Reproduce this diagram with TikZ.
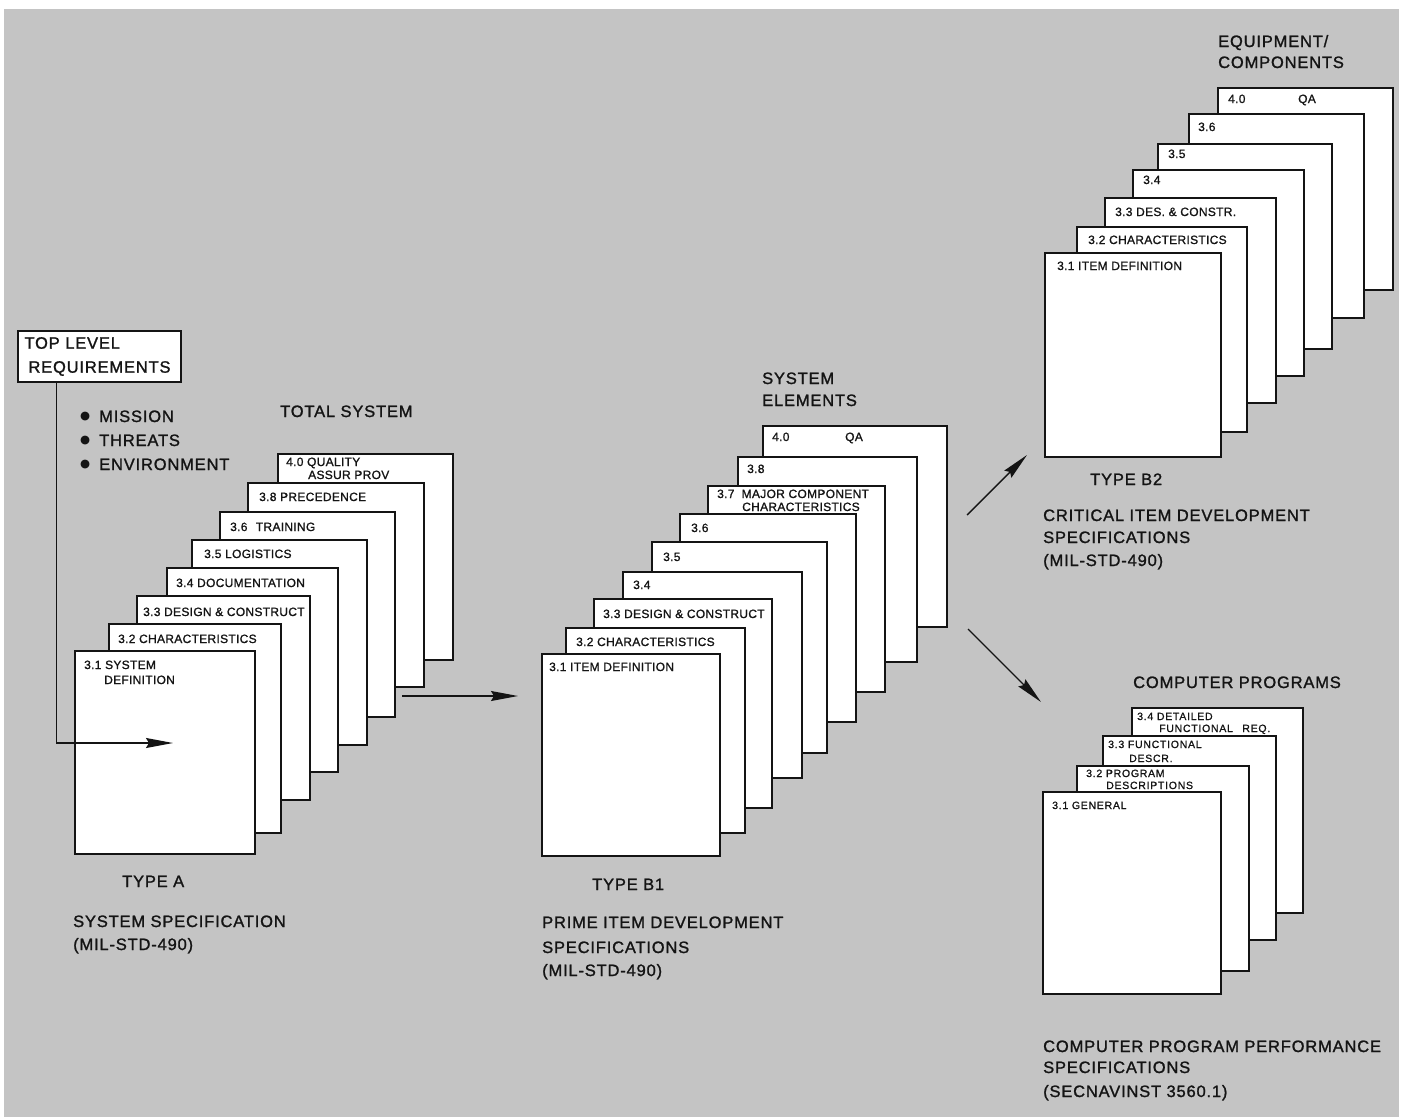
\documentclass[tikz,border=0pt]{standalone}
\usepackage{fontspec}
\setmainfont{Liberation Sans}
\newfontfamily\bigf[LetterSpace=5,FakeBold=1.3]{Liberation Sans}
\newfontfamily\smf[LetterSpace=2.5,FakeBold=1.1]{Liberation Sans}
\newfontfamily\cpf[LetterSpace=7,FakeBold=1.0]{Liberation Sans}
\newfontfamily\dotf{DejaVu Sans}
\usetikzlibrary{arrows.meta}
\definecolor{bg}{RGB}{196,196,196}
\definecolor{ink}{RGB}{20,20,20}
\newcommand\sht[5]{\node[sheet, minimum width={(#4-#2)*1pt}, minimum height={(#5-#3)*1pt}] (#1) at (#2,#3) {};}
\newcommand\bdot{\raisebox{2.5pt}{\dotf\fontsize{11.5}{11.5}\selectfont ●}}
\begin{document}
\begin{tikzpicture}[x=1pt,y=-1pt,
  sheet/.style={draw=ink, fill=white, line width=1.5pt, inner sep=0pt, outer sep=0pt, anchor=north west},
  big/.style={font=\bigf\fontsize{16.5}{24}\selectfont, text=ink, inner sep=0pt, anchor=base west},
  slab/.style={font=\smf\fontsize{12}{14}\selectfont, text=ink, inner sep=0pt, anchor=base west},
  clab/.style={font=\cpf\fontsize{10.5}{12}\selectfont, text=ink, inner sep=0pt, anchor=base west},
  arr/.style={draw=ink, line width=1.4pt, -{Stealth[length=27pt,width=10pt,inset=3pt]}}]
\useasboundingbox (0,0) rectangle (1408,1119);
\fill[white] (0,0) rectangle (1408,1119);
\fill[bg] (4,9) rectangle (1399,1117);

% ---------- Top level requirements ----------
\node[draw=ink, fill=white, line width=1.5pt, minimum width=163pt, minimum height=51pt,
      text width=150pt, align=left, inner sep=0pt, font=\bigf\fontsize{16.5}{24}\selectfont, text=ink]
      (tlr) at (99.5,356.5) {TOP LEVEL\\\hspace*{4pt}REQUIREMENTS};
\node[big] (mis) at (80,422) {\bdot\hspace{9pt}MISSION};
\node[big] (thr) at (80,446) {\bdot\hspace{9pt}THREATS};
\node[big] (env) at (80,470) {\bdot\hspace{9pt}ENVIRONMENT};
\node[big] (tots) at (280,417) {TOTAL SYSTEM};

% ---------- Type A stack ----------
\sht{a40}{278}{454}{453}{660}
\sht{a38}{248}{483}{424}{687}
\sht{a36}{220}{512}{395}{717}
\sht{a35}{192}{540}{367}{745}
\sht{a34}{167}{568}{338}{772}
\sht{a33}{137}{596}{310}{800}
\sht{a32}{109}{624}{281}{833}
\sht{a31}{75}{651}{255}{854}
\node[slab] (a40t) at (286,466) {4.0 QUALITY};
\node[slab] (a40u) at (308,479) {ASSUR PROV};
\node[slab] (a38t) at (259,501) {3.8 PRECEDENCE};
\node[slab] (a36t) at (230,531) {3.6\hspace{0.7em}TRAINING};
\node[slab] (a35t) at (204,558) {3.5 LOGISTICS};
\node[slab] (a34t) at (176,587) {3.4 DOCUMENTATION};
\node[slab] (a33t) at (143,616) {3.3 DESIGN \& CONSTRUCT};
\node[slab] (a32t) at (118,643) {3.2 CHARACTERISTICS};
\node[slab] (a31t) at (84,669) {3.1 SYSTEM};
\node[slab] (a31u) at (104,684) {DEFINITION};

\node[big] (tya) at (122,887) {TYPE A};
\node[big] (tyas) at (73,927) {SYSTEM SPECIFICATION};
\node[big] (tyam) at (73,950) {(MIL-STD-490)};

% requirements connector
\coordinate (reqend) at (173,743);
\draw[arr] (tlr.south west) ++(39,0) |- (reqend);

% A -> B1
\coordinate (ab1s) at (402,696);
\coordinate (ab1e) at (518,696);
\draw[arr] (ab1s) -- (ab1e);

% ---------- Type B1 stack ----------
\node[big] (sel1) at (762,384) {SYSTEM};
\node[big] (sel2) at (762,406) {ELEMENTS};
\sht{b40}{763}{426}{947}{627}
\sht{b38}{738}{457}{917}{662}
\sht{b37}{708}{486}{885}{692}
\sht{b36}{680}{514}{856}{722}
\sht{b35}{652}{542}{827}{753}
\sht{b34}{623}{572}{802}{778}
\sht{b33}{594}{599}{772}{808}
\sht{b32}{566}{628}{745}{833}
\sht{b31}{542}{654}{720}{856}
\node[slab] (b40t) at (772,441) {4.0};
\node[slab] (b40q) at (845,441) {QA};
\node[slab] (b38t) at (747,473) {3.8};
\node[slab] (b37t) at (717,498) {3.7\hspace{0.6em}MAJOR COMPONENT};
\node[slab] (b37u) at (742,511) {CHARACTERISTICS};
\node[slab] (b36t) at (691,532) {3.6};
\node[slab] (b35t) at (663,561) {3.5};
\node[slab] (b34t) at (633,589) {3.4};
\node[slab] (b33t) at (603,618) {3.3 DESIGN \& CONSTRUCT};
\node[slab] (b32t) at (576,646) {3.2 CHARACTERISTICS};
\node[slab] (b31t) at (549,671) {3.1 ITEM DEFINITION};

\node[big] (tyb1) at (592,890) {TYPE B1};
\node[big] (tyb1a) at (542,928) {PRIME ITEM DEVELOPMENT};
\node[big] (tyb1b) at (542,953) {SPECIFICATIONS};
\node[big] (tyb1c) at (542,976) {(MIL-STD-490)};

% B1 -> B2 and B1 -> CP
\coordinate (b2s) at (967,515);
\coordinate (b2e) at (1027,455);
\draw[arr] (b2s) -- (b2e);
\coordinate (cps) at (968,629);
\coordinate (cpe) at (1041,702);
\draw[arr] (cps) -- (cpe);

% ---------- Type B2 stack ----------
\node[big] (eq1) at (1218,47) {EQUIPMENT/};
\node[big] (eq2) at (1218,68) {COMPONENTS};
\sht{c40}{1218}{88}{1393}{290}
\sht{c36}{1189}{114}{1364}{318}
\sht{c35}{1158}{144}{1332}{349}
\sht{c34}{1133}{170}{1304}{376}
\sht{c33}{1105}{198}{1276}{403}
\sht{c32}{1077}{227}{1247}{432}
\sht{c31}{1045}{253}{1221}{457}
\node[slab] (c40t) at (1228,103) {4.0};
\node[slab] (c40q) at (1298,103) {QA};
\node[slab] (c36t) at (1198,131) {3.6};
\node[slab] (c35t) at (1168,158) {3.5};
\node[slab] (c34t) at (1143,184) {3.4};
\node[slab] (c33t) at (1115,216) {3.3 DES. \& CONSTR.};
\node[slab] (c32t) at (1088,244) {3.2 CHARACTERISTICS};
\node[slab] (c31t) at (1057,270) {3.1 ITEM DEFINITION};

\node[big] (tyb2) at (1090,485) {TYPE B2};
\node[big] (tyb2a) at (1043,521) {CRITICAL ITEM DEVELOPMENT};
\node[big] (tyb2b) at (1043,543) {SPECIFICATIONS};
\node[big] (tyb2c) at (1043,566) {(MIL-STD-490)};

% ---------- Computer programs stack ----------
\node[big] (cpt) at (1133,688) {COMPUTER PROGRAMS};
\sht{d34}{1132}{708}{1303}{913}
\sht{d33}{1103}{736}{1276}{940}
\sht{d32}{1077}{766}{1249}{971}
\sht{d31}{1043}{792}{1221}{994}
\node[clab] (d34t) at (1137,720) {3.4 DETAILED};
\node[clab] (d34u) at (1159,732) {FUNCTIONAL\hspace{0.9em}REQ.};
\node[clab] (d33t) at (1108,748) {3.3 FUNCTIONAL};
\node[clab] (d33u) at (1129,762) {DESCR.};
\node[clab] (d32t) at (1086,777) {3.2 PROGRAM};
\node[clab] (d32u) at (1106,789) {DESCRIPTIONS};
\node[clab] (d31t) at (1052,809) {3.1 GENERAL};

\node[big] (cpa) at (1043,1052) {COMPUTER PROGRAM PERFORMANCE};
\node[big] (cpb) at (1043,1073) {SPECIFICATIONS};
\node[big] (cpc) at (1043,1097) {(SECNAVINST 3560.1)};
\end{tikzpicture}
\end{document}
